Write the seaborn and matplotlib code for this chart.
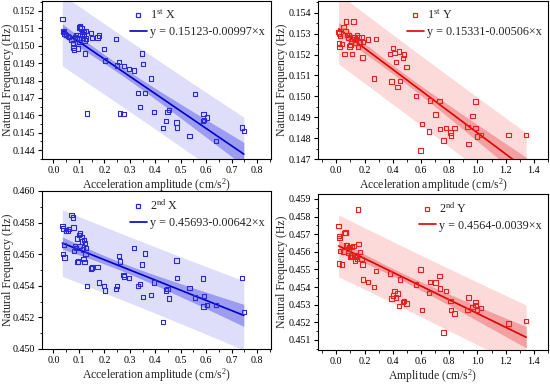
import numpy as np
import pandas as pd
import seaborn as sns
import matplotlib
matplotlib.use("Agg")
import matplotlib.pyplot as plt
from matplotlib.ticker import MultipleLocator, FormatStrFormatter
from matplotlib.lines import Line2D

# ---------------- data ----------------
amp_x = [0.035, 0.038, 0.041, 0.044, 0.037, 0.050, 0.056, 0.062, 0.071, 0.076,
         0.079, 0.081, 0.085, 0.089, 0.092, 0.095, 0.097, 0.100, 0.102, 0.105,
         0.110, 0.112, 0.115, 0.118, 0.120, 0.122, 0.124, 0.126, 0.128, 0.131,
         0.147, 0.151, 0.173, 0.178, 0.199, 0.203, 0.247, 0.250, 0.257, 0.262,
         0.276, 0.278, 0.298, 0.317, 0.333, 0.341, 0.349, 0.351, 0.359, 0.383,
         0.396, 0.430, 0.443, 0.449, 0.454, 0.483, 0.485, 0.534, 0.557, 0.588,
         0.590, 0.592, 0.603, 0.640, 0.740, 0.748]
freq_1st_x = [0.15152, 0.15086, 0.15083, 0.15067, 0.15080, 0.15062, 0.15055, 0.15050, 0.15032, 0.15013,
              0.14990, 0.14977, 0.15050, 0.15060, 0.15042, 0.15062, 0.14985, 0.15020, 0.15105, 0.15110,
              0.15100, 0.15070, 0.15045, 0.15080, 0.15065, 0.15030, 0.14956, 0.15085, 0.15042, 0.14610,
              0.15072, 0.15045, 0.15048, 0.15058, 0.14980, 0.14914, 0.15038, 0.14886, 0.14905, 0.14610,
              0.14606, 0.14884, 0.14865, 0.14857, 0.14728, 0.14648, 0.14956, 0.14895, 0.14728, 0.14811,
              0.14619, 0.14526, 0.14568, 0.14619, 0.14632, 0.14558, 0.14530, 0.14480, 0.14724, 0.14568,
              0.14606, 0.14572, 0.14587, 0.14453, 0.14530, 0.14510]
freq_2nd_x = [0.45777, 0.45762, 0.45660, 0.45580, 0.45600, 0.45750, 0.45745, 0.45760, 0.45847, 0.45832,
              0.45770, 0.45620, 0.45650, 0.45640, 0.45700, 0.45550, 0.45555, 0.45720, 0.45650, 0.45730,
              0.45710, 0.45680, 0.45630, 0.45570, 0.45690, 0.45550, 0.45670, 0.45600, 0.45640, 0.45400,
              0.45510, 0.45515, 0.45520, 0.45420, 0.45400, 0.45370, 0.45380, 0.45400, 0.45590, 0.45555,
              0.45470, 0.45460, 0.45450, 0.45640, 0.45400, 0.45410, 0.45535, 0.45330, 0.45605, 0.45340,
              0.45420, 0.45170, 0.45370, 0.45380, 0.45320, 0.45560, 0.45450, 0.45385, 0.45325, 0.45445,
              0.45270, 0.45335, 0.45280, 0.45280, 0.45450, 0.45235]

amp_y = [0.016, 0.020, 0.021, 0.018, 0.028, 0.040, 0.052, 0.059, 0.064, 0.068,
         0.075, 0.082, 0.087, 0.092, 0.099, 0.106, 0.111, 0.115, 0.122, 0.129,
         0.134, 0.141, 0.146, 0.153, 0.158, 0.169, 0.177, 0.186, 0.190, 0.224,
         0.268, 0.281, 0.382, 0.392, 0.403, 0.412, 0.423, 0.433, 0.445, 0.449,
         0.471, 0.480, 0.496, 0.564, 0.597, 0.608, 0.658, 0.665, 0.702, 0.730,
         0.736, 0.760, 0.777, 0.808, 0.812, 0.838, 0.930, 0.937, 0.965, 0.985,
         0.987, 0.995, 1.025, 1.220, 1.345]
freq_1st_y = [0.15309, 0.15252, 0.15236, 0.15300, 0.15289, 0.15249, 0.15332, 0.15201, 0.15313, 0.15357,
              0.15293, 0.15281, 0.15293, 0.15238, 0.15246, 0.15265, 0.15201, 0.15273, 0.15357, 0.15281,
              0.15257, 0.15268, 0.15292, 0.15236, 0.15281, 0.15257, 0.15284, 0.15185, 0.15260, 0.15271,
              0.15085, 0.15273, 0.15201, 0.15071, 0.15230, 0.15208, 0.15165, 0.15045, 0.15214, 0.15074,
              0.15182, 0.15200, 0.15141, 0.15002, 0.14740, 0.14867, 0.14832, 0.14980, 0.14912, 0.14978,
              0.14843, 0.14788, 0.14848, 0.14827, 0.14812, 0.14848, 0.14854, 0.14772, 0.14907, 0.14975,
              0.14848, 0.14807, 0.14816, 0.14816, 0.14816]
freq_2nd_y = [0.45746, 0.45689, 0.45678, 0.45533, 0.45605, 0.45527, 0.45601, 0.45706, 0.45709, 0.45637,
              0.45637, 0.45593, 0.45608, 0.45627, 0.45570, 0.45580, 0.45627, 0.45570, 0.45632, 0.45580,
              0.45550, 0.45570, 0.45560, 0.45840, 0.45645, 0.45598, 0.45560, 0.45527, 0.45444, 0.45430,
              0.45401, 0.45490, 0.45476, 0.45335, 0.45353, 0.45377, 0.45340, 0.45364, 0.45294, 0.45444,
              0.45316, 0.45320, 0.45307, 0.45414, 0.45499, 0.45270, 0.45367, 0.45430, 0.45426, 0.45463,
              0.45392, 0.45143, 0.45377, 0.45322, 0.45270, 0.45251, 0.45270, 0.45341, 0.45288, 0.45316,
              0.45300, 0.45270, 0.45280, 0.45194, 0.45209]

series_labels = [r"1$^{\mathrm{st}}$ X", r"1$^{\mathrm{st}}$ Y", r"2$^{\mathrm{nd}}$ X", r"2$^{\mathrm{nd}}$ Y"]
intercepts = [0.15123, 0.15331, 0.45693, 0.4564]
slopes = [-0.00997, -0.00506, -0.00642, -0.0039]
equations = ["y = 0.15123-0.00997×x", "y = 0.15331-0.00506×x",
             "y = 0.45693-0.00642×x", "y = 0.4564-0.0039×x"]
x_labels = [r"Acceleration amplitude (cm/s$^2$)", r"Acceleration amplitude (cm/s$^2$)",
            r"Acceleration amplitude (cm/s$^2$)", r"Amplitude (cm/s$^2$)"]
y_label = "Natural Frequency (Hz)"
x_ticks_x = [0.0, 0.1, 0.2, 0.3, 0.4, 0.5, 0.6, 0.7, 0.8]
x_ticks_y = [0.0, 0.2, 0.4, 0.6, 0.8, 1.0, 1.2, 1.4]
y_ticks = [[0.144, 0.145, 0.146, 0.147, 0.148, 0.149, 0.150, 0.151, 0.152],
           [0.147, 0.148, 0.149, 0.150, 0.151, 0.152, 0.153, 0.154],
           [0.450, 0.452, 0.454, 0.456, 0.458, 0.460],
           [0.451, 0.452, 0.453, 0.454, 0.455, 0.456, 0.457, 0.458, 0.459]]

# ---------------- style ----------------
sns.set_theme(style="ticks")
plt.rcParams.update({
    "font.family": ["Liberation Serif", "DejaVu Serif"],
    "mathtext.fontset": "custom",
    "mathtext.rm": "Liberation Serif",
    "mathtext.bf": "Liberation Serif:bold",
    "mathtext.it": "Liberation Serif:italic",
    "axes.linewidth": 0.8,
    "axes.edgecolor": "black",
    "xtick.color": "black", "ytick.color": "black",
    "xtick.direction": "out", "ytick.direction": "out",
    "xtick.major.size": 3, "ytick.major.size": 3,
    "xtick.minor.size": 1.8, "ytick.minor.size": 1.8,
    "xtick.major.width": 0.8, "ytick.major.width": 0.8,
    "xtick.minor.width": 0.6, "ytick.minor.width": 0.6,
    "xtick.minor.visible": True, "ytick.minor.visible": True,
    "xtick.labelsize": 7.2, "ytick.labelsize": 7.2,
})

fig = plt.figure(figsize=(5.5, 3.84), dpi=100)
W, H = 550, 384
boxes = [(42, 1, 271, 159), (318, 1, 548, 159), (42, 191, 271, 349), (318, 194, 548, 350)]
axes = [fig.add_axes([l / W, 1 - b / H, (r - l) / W, (b - t) / H]) for (l, t, r, b) in boxes]

panels = [
    (amp_x, freq_1st_x, "blue"),
    (amp_y, freq_1st_y, "red"),
    (amp_x, freq_2nd_x, "blue"),
    (amp_y, freq_2nd_y, "red"),
]
colors = {
    "blue": dict(pt="#2a2ad6", line="#0000cc", pred="#dedefa", conf="#9c9cf0"),
    "red": dict(pt="#e82020", line="#e00000", pred="#fddada", conf="#f4a0a0"),
}
xlims = [(-0.045, 0.855), (-0.13, 1.5), (-0.045, 0.855), (-0.13, 1.5)]
ylims = [(0.14349, 0.15257), (0.1470, 0.15456), (0.4500, 0.4600), (0.45043, 0.45928)]
ylabel_x = [-0.122, -0.13, -0.122, -0.13]
xlabel_y = [-0.11, -0.11, -0.112, -0.114]

for i, ax in enumerate(axes):
    xs, ys, cname = panels[i]
    c = colors[cname]
    x = np.asarray(xs)
    y = np.asarray(ys)
    n = len(x)
    a, b = intercepts[i], slopes[i]
    resid = y - (a + b * x)
    s = np.sqrt(np.sum(resid ** 2) / (n - 2))
    xm = x.mean()
    sxx = np.sum((x - xm) ** 2)
    t = 1.998
    xg = np.linspace(x.min(), x.max(), 200)
    yg = a + b * xg
    se_conf = s * np.sqrt(1 / n + (xg - xm) ** 2 / sxx)
    se_pred = s * np.sqrt(1 + 1 / n + (xg - xm) ** 2 / sxx)
    ax.fill_between(xg, yg - t * se_pred, yg + t * se_pred, color=c["pred"], lw=0, zorder=1)
    ax.fill_between(xg, yg - t * se_conf, yg + t * se_conf, color=c["conf"], lw=0, zorder=2)

    fit = pd.DataFrame({"x": xg, "y": yg})
    sns.lineplot(data=fit, x="x", y="y", ax=ax, color=c["line"], lw=1.2, zorder=4)
    df = pd.DataFrame({"x": x, "y": y})
    sns.scatterplot(data=df, x="x", y="y", ax=ax, marker="s", s=10,
                    facecolor="none", edgecolor=c["pt"], linewidth=0.8, zorder=5)

    ax.set_xlim(*xlims[i])
    ax.set_ylim(*ylims[i])
    ax.set_xticks(x_ticks_x if cname == "blue" else x_ticks_y)
    ax.set_yticks(y_ticks[i])
    ax.xaxis.set_major_formatter(FormatStrFormatter("%.1f"))
    ax.yaxis.set_major_formatter(FormatStrFormatter("%.3f"))
    ax.xaxis.set_minor_locator(MultipleLocator(0.05 if cname == "blue" else 0.1))
    ax.yaxis.set_minor_locator(MultipleLocator(0.0005 if i != 2 else 0.001))
    ax.tick_params(top=False, right=False, which="both", pad=2)
    for sp in ax.spines.values():
        sp.set_visible(True)
        sp.set_color("black")
    ax.set_xlabel(x_labels[i], fontsize=8.5)
    ax.set_ylabel(y_label, fontsize=8.5)
    ax.xaxis.set_label_coords(0.5, xlabel_y[i])
    ax.yaxis.set_label_coords(ylabel_x[i], 0.5)

    handles = [
        Line2D([], [], marker="s", ls="none", mfc="none", mec=c["pt"], ms=3.2, mew=0.9),
        Line2D([], [], color=c["line"], lw=1.2),
    ]
    ax.legend(handles, [series_labels[i], equations[i]], loc="upper right",
              bbox_to_anchor=(1.0, 0.99), frameon=False, handlelength=1.45,
              handletextpad=0.25, labelspacing=0.3, borderaxespad=0.1,
              prop={"size": 8.7})

fig.savefig("out.png", dpi=100)
